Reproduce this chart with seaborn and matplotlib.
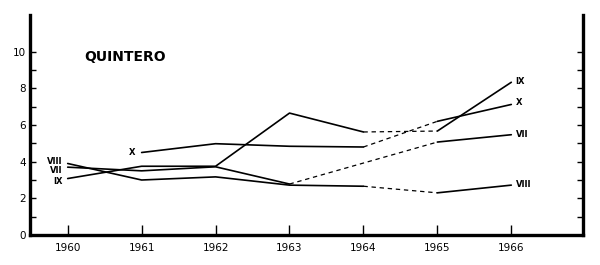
import numpy as np
import pandas as pd
import matplotlib
matplotlib.use("Agg")
import matplotlib.pyplot as plt
import seaborn as sns

years = [1960, 1961, 1962, 1963, 1964, 1965, 1966]
series_names = ["VII", "VIII", "IX", "X"]
vii = [3.70, 3.50, 3.72, 2.78, np.nan, 5.07, 5.47]
viii = [3.90, 3.00, 3.17, 2.72, 2.66, 2.30, 2.72]
ix = [3.08, 3.75, 3.75, 6.65, 5.62, 5.67, 8.33]
x_ser = [np.nan, 4.50, 4.98, 4.84, 4.80, 6.20, 7.12]
title = "QUINTERO"
y_ticks = [0, 2, 4, 6, 8, 10]

sns.set_theme(style="white")
plt.rcParams['font.family'] = ['DejaVu Sans']

data = {"VII": vii, "VIII": viii, "IX": ix, "X": x_ser}
rows = []
for name, vals in data.items():
    for yr, v in zip(years, vals):
        rows.append({"series": name, "year": yr, "value": v})
df = pd.DataFrame(rows)

fig = plt.figure(figsize=(6, 2.65), dpi=100)
ax = fig.add_axes([30 / 600, 1 - 235 / 265, (583 - 30) / 600, 220 / 265])

for name in series_names:
    s = df[df.series == name].dropna()
    solid_a = s[s.year <= 1964]
    solid_b = s[s.year >= 1965]
    last_a = solid_a.year.max()
    dashed = s[(s.year >= last_a) & (s.year <= 1965)]
    for part in (solid_a, solid_b):
        sns.lineplot(data=part, x="year", y="value", ax=ax, color="black",
                     linewidth=1.2, estimator=None, sort=True, legend=False)
    sns.lineplot(data=dashed, x="year", y="value", ax=ax, color="black",
                 linewidth=0.9, linestyle=(0, (3.5, 3)), estimator=None,
                 legend=False)

ax.set_xlim(1959.49, 1966.97)
ax.set_ylim(0, 12)
ax.set_xlabel("")
ax.set_ylabel("")

for sp in ["left", "bottom", "right"]:
    ax.spines[sp].set_visible(True)
    ax.spines[sp].set_linewidth(2.4)
    ax.spines[sp].set_color("black")
ax.spines["top"].set_visible(False)

ax.set_xticks(years)
ax.set_xticklabels([str(y) for y in years], fontsize=7.5)
ax.set_yticks(y_ticks)
ax.set_yticklabels([str(t) for t in y_ticks], fontsize=7.5)
ax.set_yticks([1, 3, 5, 7, 9], minor=True)
ax.tick_params(axis="x", direction="in", length=7, width=1, pad=6,
               bottom=True, top=False, colors="black")
ax.tick_params(axis="y", which="both", direction="in", length=4, width=1,
               left=True, right=True, pad=3, colors="black")
ax.tick_params(axis="y", labelright=False)
ax.grid(False)

ax.text(1960.78, 9.7, title, fontsize=10, fontweight="bold",
        ha="center", va="center", color="black")

lab_kw = dict(fontsize=6, fontweight="bold", color="black", va="center")
ax.text(1959.93, 4.0, "VIII", ha="right", **lab_kw)
ax.text(1959.93, 3.52, "VII", ha="right", **lab_kw)
ax.text(1959.93, 2.92, "IX", ha="right", **lab_kw)
ax.text(1960.92, 4.5, "X", ha="right", **lab_kw)
ax.text(1966.06, 8.4, "IX", ha="left", **lab_kw)
ax.text(1966.06, 7.22, "X", ha="left", **lab_kw)
ax.text(1966.06, 5.5, "VII", ha="left", **lab_kw)
ax.text(1966.06, 2.73, "VIII", ha="left", **lab_kw)

fig.savefig("out.png", dpi=100, facecolor="white")
